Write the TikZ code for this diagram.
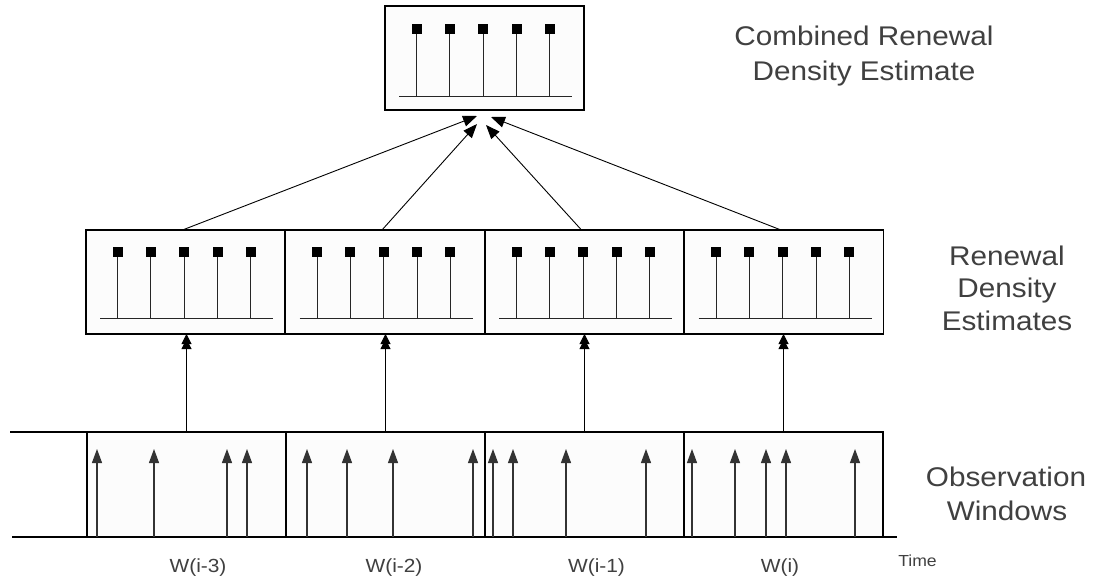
\documentclass[tikz,border=0pt]{standalone}
\usepackage{fontspec}
\setmainfont{Liberation Sans}[FakeStretch=1.1]
\usetikzlibrary{arrows.meta,calc}
\definecolor{labelgray}{HTML}{404040}

% stems with square heads inside a renewal-density panel
% #1 panel name, #2 depth of square centres, #3 depth of the base line
\newcommand\spikeplot[3]{%
  \draw[stem] ($(#1.north west)+(14,#3)$) -- ($(#1.north west)+(187,#3)$);
  \foreach \dx in {31.5,64.5,98,131.5,164.5}{
    \draw[stem] ($(#1.north west)+(\dx,#2)$) -- ($(#1.north west)+(\dx,#3)$);
    \fill ($(#1.north west)+(\dx-5,#2-5)$) rectangle ($(#1.north west)+(\dx+5,#2+5)$);
  }%
}

\begin{document}
\begin{tikzpicture}[x=1pt,y=-1pt,
  panel/.style={draw=black,line width=1.1pt,fill=black!1,minimum width=199pt,
    minimum height=104pt,inner sep=0pt,outer sep=0pt,anchor=north west},
  window/.style={panel,minimum height=105pt},
  stem/.style={draw=black!85,line width=1pt},
  axis/.style={draw=black,line width=1.1pt},
  event/.style={draw=black!80,line width=1.1pt,-{Triangle[length=14pt,width=10pt]}},
  feed/.style={draw=black,line width=1pt,
    -{Triangle[length=10pt,width=10pt,sep=-5pt]Triangle[length=10pt,width=10pt]}},
  merge/.style={draw=black,line width=0.9pt,-{Triangle[length=14pt,width=11pt]}},
  heading/.style={text=labelgray,font=\fontsize{27}{32}\selectfont,anchor=base,inner sep=0pt},
  tick/.style={text=labelgray,font=\fontsize{19}{22}\selectfont,anchor=base,inner sep=0pt},
]
\fill[white] (0,0) rectangle (1096,584);
\useasboundingbox (0,0) rectangle (1096,584);

% combined estimate
\node[panel] (comb) at (385,6) {};
\spikeplot{comb}{22.5}{90}

% per-window estimates
\node[panel] (est1) at (86,230) {};
\node[panel] (est2) at (285.5,230) {};
\node[panel] (est3) at (485,230) {};
\node[panel] (est4) at (684.5,230) {};
\foreach \p in {est1,est2,est3,est4}{\spikeplot{\p}{21.5}{88}}

% observation windows
\node[window] (w1) at (87,432) {};
\node[window] (w2) at (286,432) {};
\node[window] (w3) at (485,432) {};
\node[window] (w4) at (684,432) {};

% time axis and lead-in
\coordinate (t0) at (12,537);
\coordinate (tend) at (897,537);
\coordinate (lead) at (10,432);
\draw[axis] (t0) -- (tend);
\draw[axis] (lead) -- (w1.north west);

% events
\foreach \x in {97,154,227,247, 307,347,393,473, 493,513,566,646, 692,735,766,786,855}
  \draw[event] (\x,537) -- ++(0,-88);

% windows feed the estimates
\foreach \i in {1,2,3,4}
  \draw[feed] (w\i.north) -- (w\i.north |- est\i.south);

% estimates merge into the combined one
\coordinate (m1) at (477,116);
\coordinate (m2) at (477,124);
\coordinate (m3) at (486,125);
\coordinate (m4) at (491,117);
\foreach \i in {1,2,3,4}
  \draw[merge] ($(est\i.north)+(-3,0)$) -- (m\i);

% labels
\node[heading] (h1a) at (864,45) {Combined Renewal};
\node[heading] (h1b) at (864,80) {Density Estimate};
\node[heading] (h2a) at (1007,265) {Renewal};
\node[heading] (h2b) at (1007,297.5) {Density};
\node[heading] (h2c) at (1007,330) {Estimates};
\node[heading] (h3a) at (1006,486) {Observation};
\node[heading] (h3b) at (1007,520) {Windows};

\node[tick] (l1) at (198,572) {W(i-3)};
\node[tick] (l2) at (394,572) {W(i-2)};
\node[tick] (l3) at (596.5,572) {W(i-1)};
\node[tick] (l4) at (780,572) {W(i)};
\node[tick,font=\fontsize{16}{19}\selectfont] (time) at (917.5,566.5) {Time};
\end{tikzpicture}
\end{document}
